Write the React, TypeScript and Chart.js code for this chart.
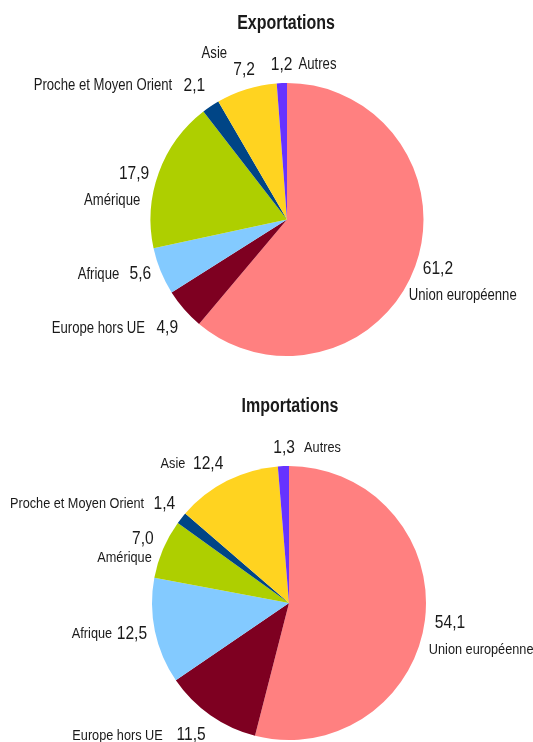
import React, { useEffect, useRef } from 'react';
import { Chart, registerables } from 'chart.js';

Chart.register(...registerables);

// ---- Data ----
const categories = [
  'Union européenne',
  'Europe hors UE',
  'Afrique',
  'Amérique',
  'Proche et Moyen Orient',
  'Asie',
  'Autres',
];
const exportValues = [61.2, 4.9, 5.6, 17.9, 2.1, 7.2, 1.2];
const importValues = [54.1, 11.5, 12.5, 7.0, 1.4, 12.4, 1.3];
const exportTitle = 'Exportations';
const importTitle = 'Importations';

// ---- Styles ----
const sliceColors = ['#ff8080', '#7e0021', '#83caff', '#aecf00', '#004586', '#ffd320', '#6633ff'];
const FONT = "'Liberation Sans', Arial, sans-serif";
const SQUEEZE = 0.82; // narrow-face look
const TEXT_COLOR = '#1a1a1a';

type Part = { dx: number; dy: number; align: CanvasTextAlign };
type LabelSpot = { value: Part; name: Part };

// label placement relative to the point just outside each slice's mid-angle
const exportLabelSpots: LabelSpot[] = [
  { value: { dx: 0, dy: 0, align: 'left' }, name: { dx: -14, dy: 27, align: 'left' } },
  { value: { dx: 0, dy: 13, align: 'right' }, name: { dx: -33, dy: 14, align: 'right' } },
  { value: { dx: -2, dy: 0, align: 'right' }, name: { dx: -34, dy: 0, align: 'right' } },
  { value: { dx: -2, dy: 4, align: 'right' }, name: { dx: -11, dy: 31, align: 'right' } },
  { value: { dx: -1, dy: -14, align: 'right' }, name: { dx: -34, dy: -14, align: 'right' } },
  { value: { dx: 0, dy: -12, align: 'center' }, name: { dx: -17, dy: -28, align: 'right' } },
  { value: { dx: 0, dy: -10, align: 'center' }, name: { dx: 17, dy: -11, align: 'left' } },
];
const importLabelSpots: LabelSpot[] = [
  { value: { dx: 2, dy: 2, align: 'left' }, name: { dx: -4, dy: 29, align: 'left' } },
  { value: { dx: 0, dy: 13, align: 'right' }, name: { dx: -43, dy: 14, align: 'right' } },
  { value: { dx: 0, dy: 1, align: 'right' }, name: { dx: -35, dy: 1, align: 'right' } },
  { value: { dx: -2, dy: -7, align: 'right' }, name: { dx: -4, dy: 12, align: 'right' } },
  { value: { dx: 0, dy: -9, align: 'right' }, name: { dx: -31, dy: -9, align: 'right' } },
  { value: { dx: 0, dy: -10, align: 'right' }, name: { dx: -38, dy: -10, align: 'right' } },
  { value: { dx: 1, dy: -10, align: 'center' }, name: { dx: 21, dy: -10, align: 'left' } },
];

function fmt(v: number): string {
  return v.toFixed(1).replace('.', ',');
}

function drawText(
  ctx: CanvasRenderingContext2D,
  text: string,
  x: number,
  y: number,
  align: CanvasTextAlign,
  font: string
) {
  ctx.save();
  ctx.font = font;
  ctx.textAlign = align;
  ctx.textBaseline = 'middle';
  ctx.translate(x, y);
  ctx.scale(SQUEEZE, 1);
  ctx.fillText(text, 0, 0);
  ctx.restore();
}

const sliceLabels = {
  id: 'sliceLabels',
  afterDraw(chart: any, _args: any, opts: any) {
    const ctx: CanvasRenderingContext2D = chart.ctx;
    const meta = chart.getDatasetMeta(0);
    const data = chart.data.datasets[0].data as number[];
    const labels = chart.data.labels as string[];
    ctx.save();
    ctx.fillStyle = opts.color;
    const area = chart.chartArea;
    drawText(
      ctx,
      opts.title,
      (area.left + area.right) / 2 + opts.titleDx,
      area.top - opts.titleGap,
      'center',
      `bold ${opts.titleSize}px ${FONT}`
    );
    meta.data.forEach((arc: any, i: number) => {
      const p = arc.getProps(['x', 'y', 'startAngle', 'endAngle', 'outerRadius'], true);
      const mid = (p.startAngle + p.endAngle) / 2;
      const rr = p.outerRadius + opts.gap;
      const ax = p.x + Math.cos(mid) * rr;
      const ay = p.y + Math.sin(mid) * rr;
      const spot: LabelSpot = opts.spots[i];
      drawText(ctx, fmt(data[i]), ax + spot.value.dx, ay + spot.value.dy, spot.value.align, `${opts.valueSize}px ${FONT}`);
      drawText(ctx, labels[i], ax + spot.name.dx, ay + spot.name.dy, spot.name.align, `${opts.nameSize}px ${FONT}`);
    });
    ctx.restore();
  },
};

type PieProps = {
  title: string;
  values: number[];
  spots: LabelSpot[];
  padding: { left: number; right: number; top: number; bottom: number };
  nameSize: number;
  titleDx: number;
};

function Pie({ title, values, spots, padding, nameSize, titleDx }: PieProps) {
  const ref = useRef<HTMLCanvasElement | null>(null);
  useEffect(() => {
    if (!ref.current) return;
    const chart = new Chart(ref.current, {
      type: 'pie',
      data: {
        labels: categories,
        datasets: [
          {
            data: values,
            backgroundColor: sliceColors,
            borderWidth: 0,
            hoverOffset: 0,
            offset: 0,
          },
        ],
      },
      options: {
        responsive: false,
        animation: false,
        devicePixelRatio: 1,
        events: [],
        layout: { padding },
        plugins: {
          legend: { display: false },
          tooltip: { enabled: false },
          title: { display: false },
          sliceLabels: {
            spots,
            gap: 8,
            valueSize: 19,
            nameSize,
            color: TEXT_COLOR,
            title,
            titleSize: 19.5,
            titleGap: 59,
            titleDx,
          },
        } as any,
      },
      plugins: [sliceLabels as any],
    });
    return () => chart.destroy();
  }, []);
  return <canvas ref={ref} width={533} height={371} style={{ display: 'block', width: 533, height: 371 }} />;
}

export default function App() {
  return (
    <div style={{ position: 'fixed', left: 0, top: 0, width: 533, height: 742, background: '#fff' }}>
      <Pie
        title={exportTitle}
        values={exportValues}
        spots={exportLabelSpots}
        padding={{ left: 150.5, right: 109.5, top: 83, bottom: 15 }}
        nameSize={16}
        titleDx={-1}
      />
      <Pie
        title={importTitle}
        values={importValues}
        spots={importLabelSpots}
        padding={{ left: 152, right: 107, top: 95, bottom: 2 }}
        nameSize={15.5}
        titleDx={1}
      />
    </div>
  );
}
